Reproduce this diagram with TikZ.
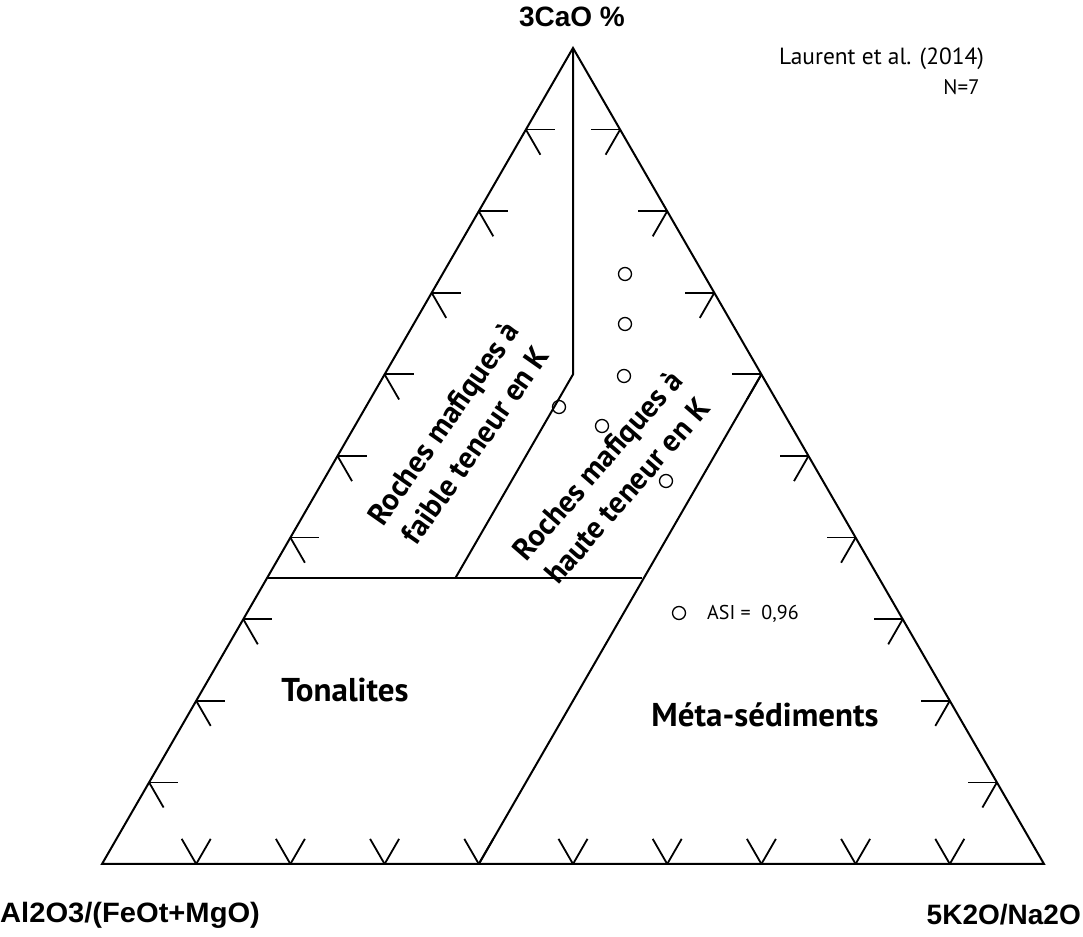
\documentclass[tikz,border=0pt]{standalone}
\usepackage{fontspec}
\usetikzlibrary{calc}
\newfontfamily\arialf{Liberation Sans}
\newfontfamily\myriadf{PT Sans}
\begin{document}
\begin{tikzpicture}[x=1pt,y=1pt,
  frame/.style={line width=2pt,line join=miter},
  tickmark/.style={line width=1.8pt},
  sample/.style={circle,draw,line width=1.3pt,minimum size=13pt,inner sep=0pt},
  axislabel/.style={font=\arialf\bfseries\fontsize{28}{32}\selectfont,inner sep=0pt},
  fieldlabel/.style={font=\myriadf\bfseries\fontsize{33}{36}\selectfont,inner sep=0pt},
  rotlabel/.style={font=\myriadf\bfseries\fontsize{30.5}{34}\selectfont,inner sep=0pt,align=center},
  note/.style={font=\myriadf\fontsize{23.4}{28}\selectfont,inner sep=0pt}]
\useasboundingbox (0,0) rectangle (1083,936);
\coordinate (A) at (102,72);
\coordinate (B) at (1044,72);
\coordinate (C) at (573,888);
% main triangle
\draw[frame] (A) -- (B) -- (C) -- cycle;
% ticks
\foreach \i in {1,...,9} {
  \coordinate (L\i) at ($(A)!\i/10!(C)$);
  \coordinate (R\i) at ($(B)!\i/10!(C)$);
  \coordinate (D\i) at ($(A)!\i/10!(B)$);
  \draw[tickmark] (L\i) -- ++(0:29);
  \draw[tickmark] (L\i) -- ++(-60:29);
  \draw[tickmark] (R\i) -- ++(180:29);
  \draw[tickmark] (R\i) -- ++(240:29);
  \draw[tickmark] (D\i) -- ++(60:29);
  \draw[tickmark] (D\i) -- ++(120:29);
}
% field boundaries
\coordinate (H1) at ($(A)!0.35!(C)$);
\coordinate (H2) at ($(H1)+(375.3,0)$);
\coordinate (K) at (573,561.6);
\coordinate (K2) at (455.2,357.6);
\coordinate (Q1) at ($(A)!0.4!(B)$);
\coordinate (Q2) at ($(B)!0.6!(C)$);
\draw[frame] (H1) -- (H2);
\draw[frame] (C) -- (K) -- (K2);
\draw[frame] (Q1) -- (Q2);
% samples
\node[sample] (p1) at (625,662) {};
\node[sample] (p2) at (625,612) {};
\node[sample] (p3) at (624,560) {};
\node[sample] (p4) at (559,529) {};
\node[sample] (p5) at (602,510) {};
\node[sample] (p6) at (666,455) {};
\node[sample] (p7) at (679,323) {};
% labels
\node[axislabel] (top) at (572,919) {3CaO \%};
\node[axislabel,anchor=west,xscale=1.04] (left) at (0,21) {Al2O3/(FeOt+MgO)};
\node[axislabel,anchor=east] (right) at (1081,21) {5K2O/Na2O};
\node[note,anchor=base] (ref) at (881.5,871) {Laurent et al. (2014)};
\node[note,anchor=base,font=\myriadf\fontsize{21}{24}\selectfont] (n) at (961.5,841) {N=7};
\node[note,anchor=base west,font=\myriadf\fontsize{20}{22}\selectfont] (asi) at (707,316) {ASI =\ \ 0,96};
\node[fieldlabel,anchor=base] (ton) at (345,234) {Tonalites};
\node[fieldlabel,anchor=base] (meta) at (765,209) {Méta-sédiments};
\node[rotlabel,rotate=55] (low) at (459,502) {Roches mafiques à\\[5pt]faible teneur en K};
\node[rotlabel,rotate=49] (high) at (612,458) {Roches mafiques à\\[5pt]haute teneur en K};
\end{tikzpicture}
\end{document}
